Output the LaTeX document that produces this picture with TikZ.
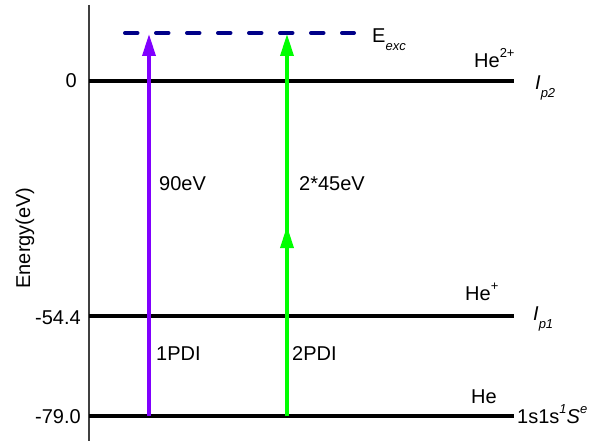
\documentclass[tikz,border=0pt]{standalone}
\usepackage{fontspec}
\setmainfont{Liberation Sans}
\usetikzlibrary{arrows.meta}

\definecolor{axisgray}{HTML}{404040}
\definecolor{excblue}{HTML}{000088}
\definecolor{pdiviolet}{HTML}{8000FF}
\definecolor{pdigreen}{HTML}{00FF00}

\newcommand{\lowtxt}[1]{\raisebox{-8pt}{\fontsize{13}{13}\selectfont\itshape #1}}
\newcommand{\hightxt}[1]{\raisebox{10pt}{\fontsize{13}{13}\selectfont #1}}

\begin{document}
\begin{tikzpicture}[x=1pt, y=-1pt,
    axisline/.style={draw=axisgray, line width=2pt},
    level/.style={draw=black, line width=3.2pt},
    excline/.style={draw=excblue, line width=4pt, dash pattern=on 12.5pt off 18.5pt, line cap=round},
    pdiarrow/.style={line width=3.5pt, -{Triangle[length=22pt, width=13pt]}},
    txt/.style={font=\fontsize{20}{24}\selectfont, inner sep=0pt, anchor=base west},
    tick/.style={txt, anchor=base east}
]
\useasboundingbox (0,0) rectangle (614,444);

% Energy axis
\coordinate (axtop) at (89,5);
\coordinate (axbot) at (89,441);
\draw[axisline] (axtop) -- (axbot);
\node[txt, anchor=center, rotate=90] (elabel) at (25,238) {Energy(eV)};

% Levels
\coordinate (ip2a) at (89,81);   \coordinate (ip2b) at (514,81);
\coordinate (ip1a) at (89,316);  \coordinate (ip1b) at (514,316);
\coordinate (gsa)  at (89,416);  \coordinate (gsb)  at (514,416);
\draw[level] (ip2a) -- (ip2b);
\draw[level] (ip1a) -- (ip1b);
\draw[level] (gsa) -- (gsb);

\node[tick] (t0)  at (77,88)  {0};
\node[tick] (t54) at (81,324) {-54.4};
\node[tick] (t79) at (81,423) {-79.0};

% Excitation energy
\coordinate (exca) at (125,33);
\coordinate (excb) at (354,33);
\draw[excline] (exca) -- (excb);
\node[txt] (eexc) at (372,43) {E\lowtxt{exc}};

% Level labels
\node[txt] (he2) at (474,68)  {He\hightxt{2+}};
\node[txt] (ip2) at (535,90)  {\itshape I\lowtxt{p2}};
\node[txt] (he1) at (465,300) {He\hightxt{+}};
\node[txt] (ip1) at (533,320) {\itshape I\lowtxt{p1}};
\node[txt] (he0) at (471,403) {He};
\node[txt] (gs)  at (517,423) {1s1s\hightxt{\itshape 1}\textit{S}\hightxt{\itshape e}};

% 1PDI
\coordinate (p1bot) at (149,416);
\coordinate (p1top) at (149,34);
\draw[pdiarrow, pdiviolet] (p1bot) -- (p1top);
\node[txt] (e90)  at (159,190) {90eV};
\node[txt] (pdi1) at (156,360) {1PDI};

% 2PDI
\coordinate (p2bot) at (287,416);
\coordinate (p2mid) at (287,226);
\coordinate (p2top) at (287,34);
\draw[pdiarrow, pdigreen] (p2bot) -- (p2top);
\draw[pdiarrow, pdigreen] (p2bot) -- (p2mid);
\node[txt] (e45)  at (299,190) {2*45eV};
\node[txt] (pdi2) at (292,360) {2PDI};

\end{tikzpicture}
\end{document}
